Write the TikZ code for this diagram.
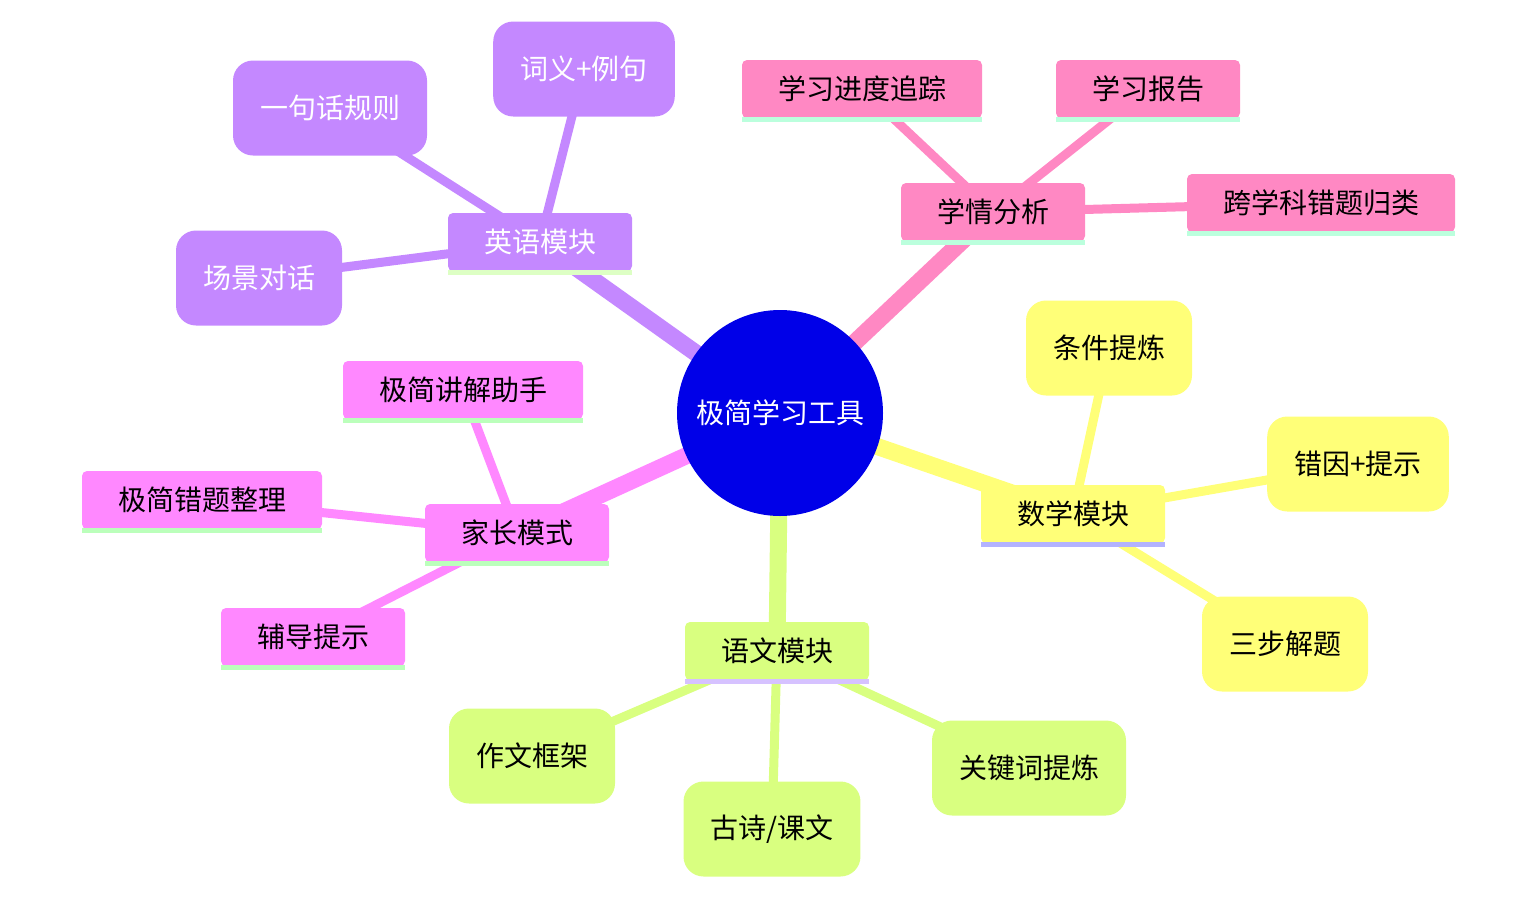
\documentclass[tikz,border=0pt]{standalone}
\usepackage{fontspec}
\setmainfont{Noto Sans CJK SC}
\usetikzlibrary{backgrounds}
\definecolor{cpur}{HTML}{C488FF}
\definecolor{upur}{HTML}{DDFFC4}
\definecolor{cpnk}{HTML}{FF88C3}
\definecolor{upnk}{HTML}{BBFFDD}
\definecolor{cyel}{HTML}{FFFF78}
\definecolor{uyel}{HTML}{B3B3FF}
\definecolor{clim}{HTML}{D9FF80}
\definecolor{ulim}{HTML}{D6C2FF}
\definecolor{cmag}{HTML}{FF88FF}
\definecolor{umag}{HTML}{BBFFBB}
\definecolor{croot}{HTML}{0000E8}
\tikzset{
  txt/.style={font=\fontsize{28}{30}\selectfont},
  rootnode/.style={circle, fill=croot, minimum size=206pt, inner sep=0pt, text=white, txt},
  secbox/.style={rectangle, rounded corners=5pt, fill=#1, minimum height=58pt, inner xsep=36pt, inner ysep=0pt, text=black, txt},
  pill/.style={rectangle, rounded corners=20pt, fill=#1, minimum height=95pt, inner xsep=27pt, inner ysep=0pt, text=black, txt},
  trunk/.style={draw=#1, line width=17pt},
  twig/.style={draw=#1, line width=9pt},
}
\newcommand{\ulbar}[2]{\fill[#2] ([yshift=1pt]#1.south west) rectangle ([yshift=-4pt]#1.south east);}
\begin{document}
\begin{tikzpicture}[x=1pt,y=-1pt]
\useasboundingbox (0,0) rectangle (1523,897);
% root
\node[rootnode] (root) at (780,413) {极简学习工具};
% English
\node[secbox=cpur, text=white] (en) at (540,242) {英语模块};
\node[pill=cpur, text=white] (en1) at (330,108) {一句话规则};
\node[pill=cpur, text=white] (en2) at (584,69) {词义+例句};
\node[pill=cpur, text=white] (en3) at (259,278) {场景对话};
\ulbar{en}{upur}
% analysis
\node[secbox=cpnk] (an) at (993,212) {学情分析};
\node[secbox=cpnk] (an1) at (862,89) {学习进度追踪};
\node[secbox=cpnk] (an2) at (1148,89) {学习报告};
\node[secbox=cpnk] (an3) at (1321,203) {跨学科错题归类};
\ulbar{an}{upnk}\ulbar{an1}{upnk}\ulbar{an2}{upnk}\ulbar{an3}{upnk}
% math
\node[secbox=cyel] (ma) at (1073,514) {数学模块};
\node[pill=cyel] (ma1) at (1109,348) {条件提炼};
\node[pill=cyel] (ma2) at (1358,464) {错因+提示};
\node[pill=cyel] (ma3) at (1285,644) {三步解题};
\ulbar{ma}{uyel}
% chinese
\node[secbox=clim] (cn) at (777,651) {语文模块};
\node[pill=clim] (cn1) at (532,756) {作文框架};
\node[pill=clim] (cn2) at (772,829) {古诗/课文};
\node[pill=clim] (cn3) at (1029,768) {关键词提炼};
\ulbar{cn}{ulim}
% parent
\node[secbox=cmag] (pa) at (517,533) {家长模式};
\node[secbox=cmag] (pa1) at (463,390) {极简讲解助手};
\node[secbox=cmag] (pa2) at (202,500) {极简错题整理};
\node[secbox=cmag] (pa3) at (313,637) {辅导提示};
\ulbar{pa}{umag}\ulbar{pa1}{umag}\ulbar{pa2}{umag}\ulbar{pa3}{umag}
\begin{scope}[on background layer]
\draw[trunk=cpur] (root.center) -- (en.center);
\draw[trunk=cpnk] (root.center) -- (an.center);
\draw[trunk=cyel] (root.center) -- (ma.center);
\draw[trunk=clim] (root.center) -- (cn.center);
\draw[trunk=cmag] (root.center) -- (pa.center);
\draw[twig=cpur] (en.center) -- (en1.center);
\draw[twig=cpur] (en.center) -- (en2.center);
\draw[twig=cpur] (en.center) -- (en3.center);
\draw[twig=cpnk] (an.center) -- (an1.center);
\draw[twig=cpnk] (an.center) -- (an2.center);
\draw[twig=cpnk] (an.center) -- (an3.center);
\draw[twig=cyel] (ma.center) -- (ma1.center);
\draw[twig=cyel] (ma.center) -- (ma2.center);
\draw[twig=cyel] (ma.center) -- (ma3.center);
\draw[twig=clim] (cn.center) -- (cn1.center);
\draw[twig=clim] (cn.center) -- (cn2.center);
\draw[twig=clim] (cn.center) -- (cn3.center);
\draw[twig=cmag] (pa.center) -- (pa1.center);
\draw[twig=cmag] (pa.center) -- (pa2.center);
\draw[twig=cmag] (pa.center) -- (pa3.center);
\end{scope}
\end{tikzpicture}
\end{document}
